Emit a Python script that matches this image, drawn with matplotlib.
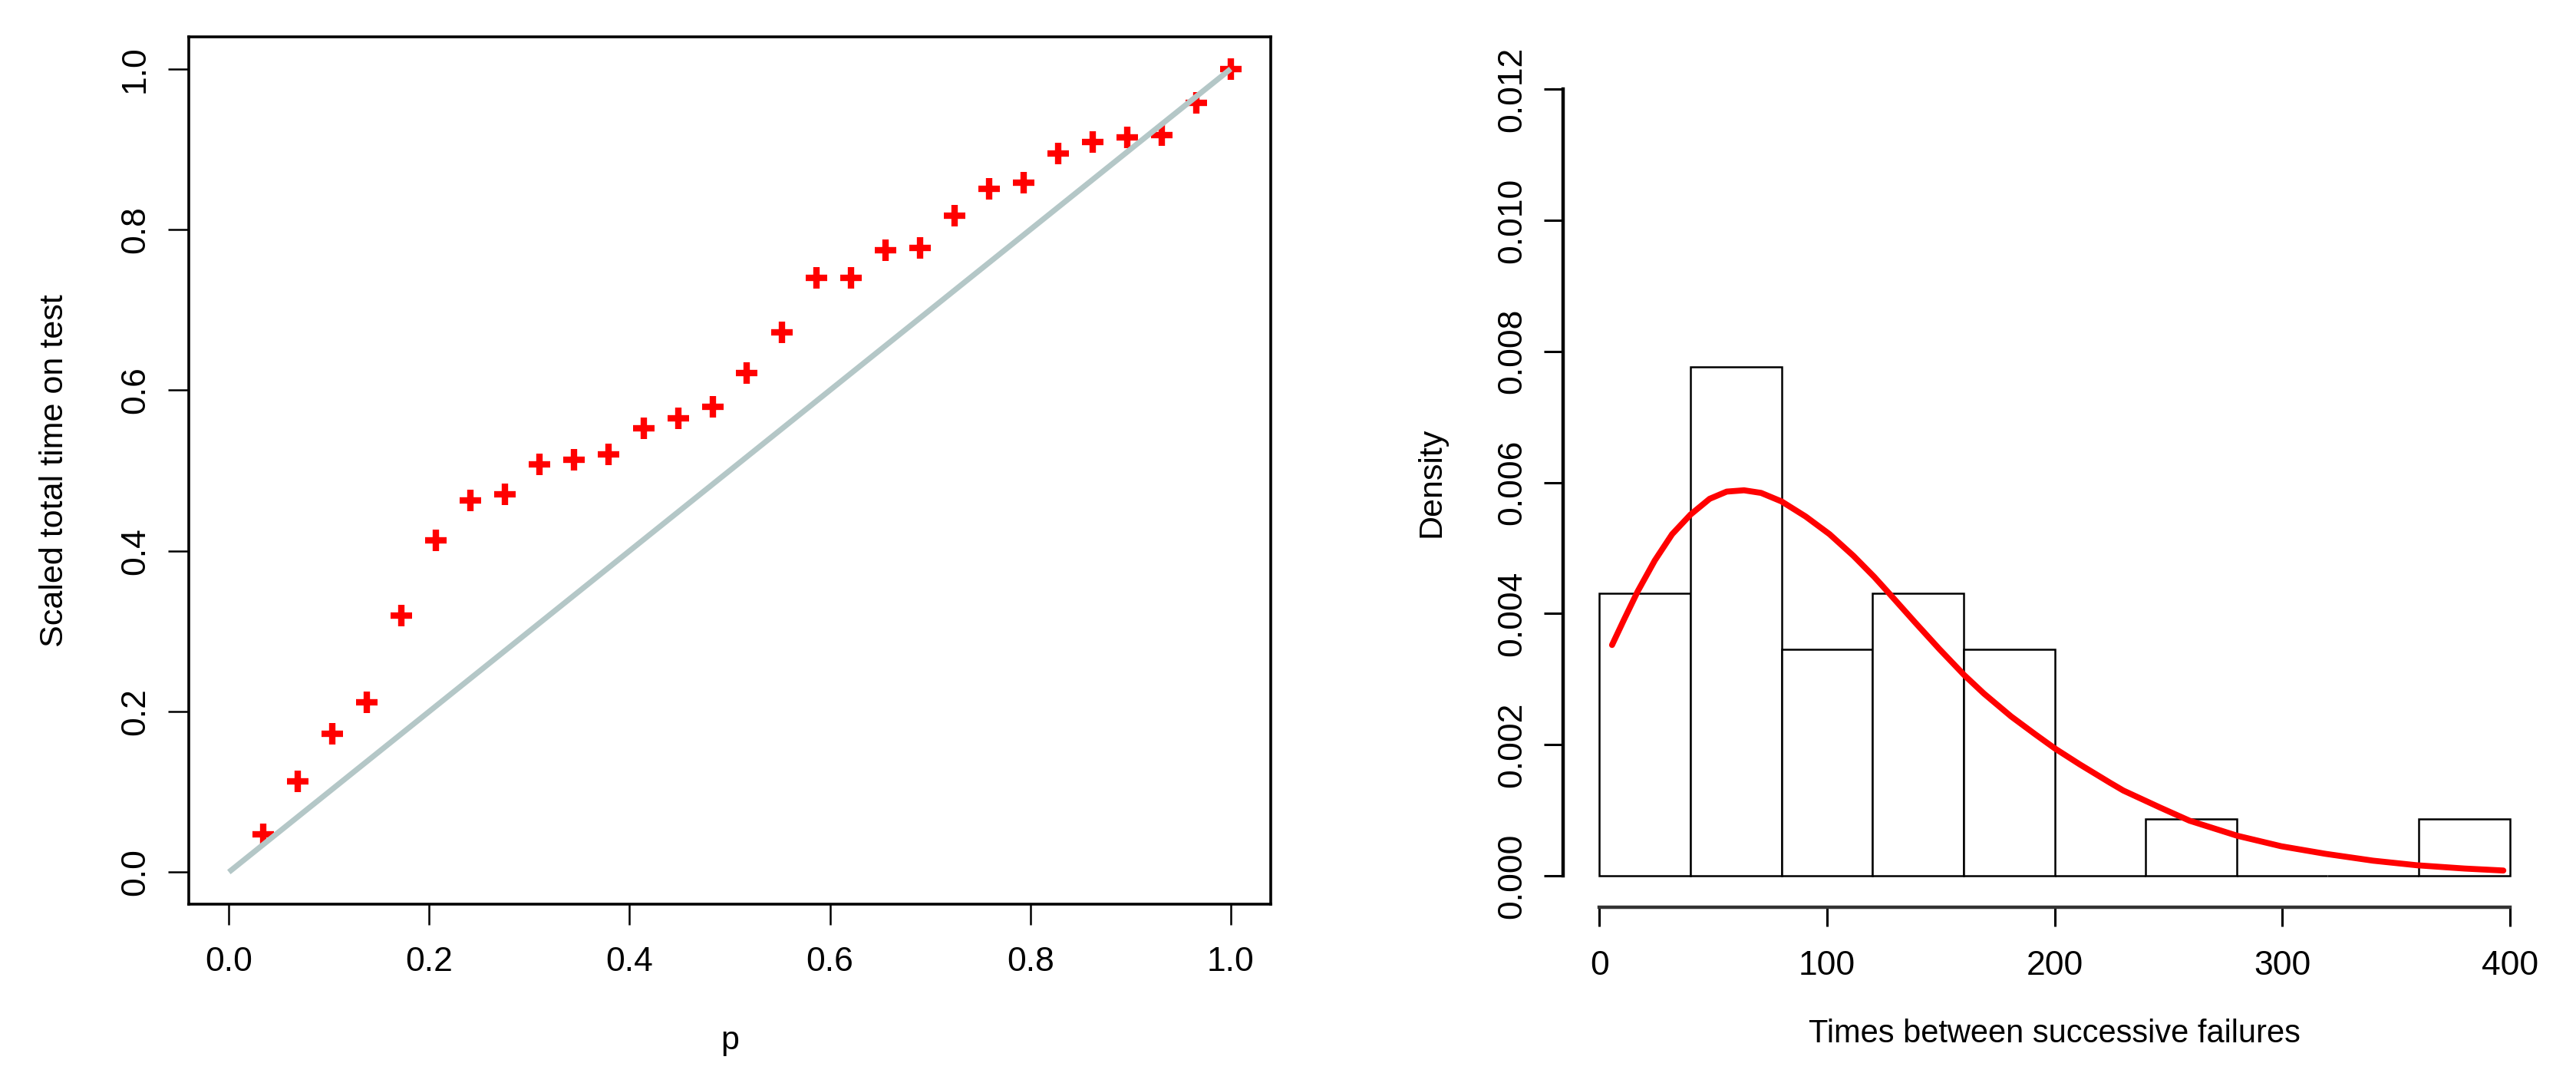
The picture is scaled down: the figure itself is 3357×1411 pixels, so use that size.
import matplotlib.pyplot as plt
import numpy as np

plt.rcParams['font.family'] = ['Liberation Sans', 'DejaVu Sans']

# left panel: scaled total time on test (TTT) plot
p = [0.0345, 0.0690, 0.1034, 0.1379, 0.1724, 0.2069, 0.2414, 0.2759, 0.3103, 0.3448,
     0.3793, 0.4138, 0.4483, 0.4828, 0.5172, 0.5517, 0.5862, 0.6207, 0.6552, 0.6897,
     0.7241, 0.7586, 0.7931, 0.8276, 0.8621, 0.8966, 0.9310, 0.9655, 1.0]
ttt = [0.047, 0.113, 0.172, 0.211, 0.319, 0.413, 0.463, 0.470, 0.508, 0.513,
       0.520, 0.553, 0.565, 0.579, 0.621, 0.672, 0.740, 0.740, 0.774, 0.777,
       0.817, 0.851, 0.858, 0.895, 0.909, 0.915, 0.918, 0.958, 1.0]
diag_x = [0.0, 1.0]
diag_y = [0.0, 1.0]
ttt_ticks = [0.0, 0.2, 0.4, 0.6, 0.8, 1.0]
ttt_labels = ['0.0', '0.2', '0.4', '0.6', '0.8', '1.0']

# right panel: histogram of times between successive failures + fitted density
bin_edges = [0, 40, 80, 120, 160, 200, 240, 280, 320, 360, 400]
bin_counts = [5, 9, 4, 5, 4, 0, 1, 0, 0, 1]
curve_x = [5.5, 10.8, 16.8, 24.3, 31.9, 40.0, 48.4, 55.9, 63.5, 71.0,
           80.0, 90.6, 101.1, 111.6, 120.7, 126.7, 138.8, 149.3, 160.3, 168.9,
           180.9, 191.4, 200.2, 211.0, 224.3, 230.2, 246.4, 259.3, 280.3, 299.6,
           319.0, 340.0, 359.3, 380.2, 397.2]
curve_y = [0.00352, 0.00391, 0.00434, 0.00481, 0.00521, 0.00551, 0.00575, 0.00586, 0.00588, 0.00584,
           0.00571, 0.00548, 0.00521, 0.00488, 0.00456, 0.00433, 0.00386, 0.00346, 0.00306, 0.00278,
           0.00243, 0.00216, 0.00194, 0.00170, 0.00142, 0.00130, 0.00104, 0.00084, 0.00061, 0.00045,
           0.000335, 0.00023, 0.00016, 0.00011, 0.00008]
dens_ticks = [0.0, 0.002, 0.004, 0.006, 0.008, 0.010, 0.012]
dens_labels = ['0.000', '0.002', '0.004', '0.006', '0.008', '0.010', '0.012']
time_ticks = [0, 100, 200, 300, 400]

fig = plt.figure(figsize=(16.785, 7.055), dpi=200, facecolor='white')

# ---- left: TTT plot
ax1 = fig.add_axes([0.0733, 0.1651, 0.4200, 0.8009])
ax1.plot(p, ttt, linestyle='none', marker='+', ms=10, mew=3.0, color='red')
ax1.plot(diag_x, diag_y, color='#b4c7c7', lw=2.6, solid_capstyle='butt')
ax1.set_xlim(-0.04, 1.04)
ax1.set_ylim(-0.04, 1.04)
ax1.set_xticks(ttt_ticks, ttt_labels)
ax1.set_yticks(ttt_ticks, ttt_labels)
for s in ax1.spines.values():
    s.set_linewidth(1.3)
ax1.tick_params(direction='out', length=9.7, width=0.9, labelsize=16)
ax1.tick_params(axis='x', pad=10)
ax1.tick_params(axis='y', pad=8)
for lab in ax1.get_yticklabels():
    lab.set_rotation(90)
    lab.set_va('center')
ax1.set_xlabel('p', fontsize=15.5)
ax1.xaxis.set_label_coords(0.5, -0.1575)
ax1.xaxis.label.set_va('center')
ax1.set_ylabel('Scaled total time on test', fontsize=15.5)
ax1.yaxis.set_label_coords(-0.124, 0.5)
ax1.yaxis.label.set_va('center')

# ---- right: histogram with density curve
ax2 = fig.add_axes([0.6068, 0.1623, 0.3816, 0.7845])
ax2.hist(bin_edges[:-1], bins=bin_edges, weights=bin_counts, density=True,
         facecolor='white', edgecolor='black', linewidth=0.9)
ax2.plot(curve_x, curve_y, color='red', lw=2.8, solid_capstyle='round', solid_joinstyle='round')
ax2.set_xlim(-16, 416)
ax2.set_ylim(-0.00048, 0.01248)
ax2.set_xticks(time_ticks, [str(t) for t in time_ticks])
ax2.set_yticks(dens_ticks, dens_labels)
ax2.spines['top'].set_visible(False)
ax2.spines['right'].set_visible(False)
ax2.spines['left'].set_bounds(0, 0.012)
ax2.spines['bottom'].set_bounds(0, 400)
ax2.spines['left'].set_linewidth(1.6)
ax2.spines['bottom'].set_linewidth(1.6)
ax2.spines['bottom'].set_color('#333333')
ax2.tick_params(direction='out', length=9.0, width=1.1, labelsize=16)
ax2.tick_params(axis='x', pad=11)
ax2.tick_params(axis='y', pad=7.5)
for lab in ax2.get_yticklabels():
    lab.set_rotation(90)
    lab.set_va('center')
ax2.set_xlabel('Times between successive failures', fontsize=15)
ax2.xaxis.set_label_coords(0.5, -0.149)
ax2.xaxis.label.set_va('center')
ax2.set_ylabel('Density', fontsize=15.5)
ax2.yaxis.set_label_coords(-0.134, 0.5)
ax2.yaxis.label.set_va('center')

fig.savefig('out.png', dpi=200, facecolor='white')
